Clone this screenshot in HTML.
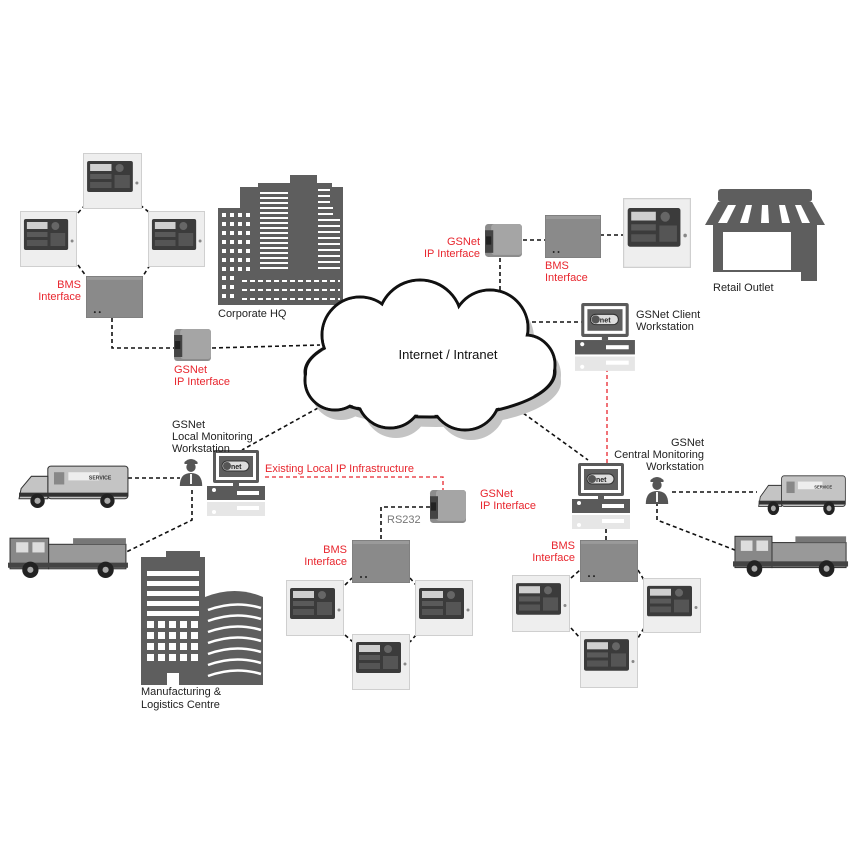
<!DOCTYPE html>
<html><head><meta charset="utf-8"><style>
html,body{margin:0;padding:0;background:#fff;}
svg{display:block;font-family:"Liberation Sans",sans-serif;}
.t{font-size:11px;fill:#222;}
.r{font-size:11px;fill:#e8262e;}
.d{stroke:#111;stroke-width:1.6;stroke-dasharray:4 3;fill:none;}
.rd{stroke:#e8262e;stroke-width:1.3;stroke-dasharray:4 3;fill:none;}
</style></head><body>
<svg width="850" height="850" viewBox="0 0 850 850" xmlns="http://www.w3.org/2000/svg">
<defs>
<symbol id="panel" viewBox="0 0 58 56" preserveAspectRatio="none">
<rect x="0.5" y="0.5" width="57" height="55" fill="#eeeeee" stroke="#cfcfcf"/>
<rect x="4" y="8" width="45" height="31" rx="2" fill="#3b3b3b"/>
<rect x="7" y="11" width="21" height="7" fill="#cfcfcf"/>
<rect x="7" y="21" width="21" height="5" fill="#5a5a5a"/>
<circle cx="36" cy="15" r="4" fill="#666"/>
<rect x="31" y="22" width="15" height="13" fill="#555"/>
<rect x="7" y="29" width="21" height="6" fill="#555"/>
<circle cx="53" cy="30" r="1.5" fill="#888"/>
</symbol>
<symbol id="bms" viewBox="0 0 58 43" preserveAspectRatio="none">
<rect x="0" y="0" width="58" height="43" fill="#8a8a8a" stroke="#777"/>
<rect x="1" y="1" width="56" height="3" fill="#9a9a9a"/>
<circle cx="9" cy="37" r="1" fill="#222"/><circle cx="14" cy="37" r="1" fill="#222"/>
</symbol>
<symbol id="ipi" viewBox="0 0 40 36" preserveAspectRatio="none">
<rect x="2" y="2" width="36" height="32" rx="3" fill="#8c8c8c"/>
<rect x="8" y="2" width="30" height="30" rx="3" fill="#a5a5a5"/>
<rect x="2" y="8" width="8" height="22" fill="#444"/>
<rect x="3" y="14" width="5" height="8" fill="#222"/>
</symbol>
<symbol id="ws" viewBox="0 0 60 70" preserveAspectRatio="none">
<rect x="6" y="0" width="46" height="33" rx="2" fill="#5a5a5a"/>
<rect x="9" y="3" width="40" height="27" fill="#fff"/>
<rect x="12" y="6" width="34" height="21" fill="#5f5f5f"/>
<rect x="15" y="11" width="27" height="10" rx="5" fill="#ddd" stroke="#333"/>
<circle cx="20" cy="16" r="4" fill="#555"/>
<text x="24" y="19" font-size="7" font-weight="bold" fill="#222">net</text>
<rect x="26" y="33" width="6" height="3" fill="#5a5a5a"/>
<rect x="0" y="36" width="58" height="14" fill="#5a5a5a"/>
<circle cx="7" cy="40" r="2" fill="#fff"/>
<rect x="30" y="41" width="22" height="4" fill="#fff"/>
<rect x="0" y="52" width="58" height="14" fill="#e6e6e6"/>
<circle cx="7" cy="62" r="2" fill="#fff"/>
<rect x="30" y="56" width="22" height="4" fill="#fff"/>
</symbol>
<symbol id="person" viewBox="0 0 30 30" preserveAspectRatio="none">
<path d="M8 6 Q15 0 22 6 L22 8 L8 8Z" fill="#555"/>
<circle cx="15" cy="11" r="5" fill="#555"/>
<path d="M3 30 Q3 17 15 17 Q27 17 27 30Z" fill="#555"/>
<path d="M14 18 L16 18 L16 28 L14 28Z" fill="#fff"/>
</symbol>
<symbol id="amb" viewBox="0 0 110 46" preserveAspectRatio="none">
<rect x="30" y="4" width="78" height="32" rx="3" fill="#c4c4c4" stroke="#333"/>
<path d="M30 14 L14 14 L4 26 L2 36 L30 36Z" fill="#c4c4c4" stroke="#333"/>
<rect x="36" y="10" width="10" height="12" fill="#888"/>
<rect x="50" y="10" width="30" height="8" fill="#eee"/>
<text x="70" y="17" font-size="5" font-weight="bold" fill="#333">SERVICE</text>
<rect x="2" y="30" width="106" height="4" fill="#333"/>
<circle cx="20" cy="38" r="7" fill="#222"/><circle cx="20" cy="38" r="3" fill="#aaa"/>
<circle cx="88" cy="38" r="7" fill="#222"/><circle cx="88" cy="38" r="3" fill="#aaa"/>
</symbol>
<symbol id="fire" viewBox="0 0 120 48" preserveAspectRatio="none">
<rect x="2" y="8" width="38" height="30" fill="#888" stroke="#333"/>
<rect x="8" y="12" width="12" height="10" fill="#ddd"/><rect x="24" y="12" width="12" height="10" fill="#ddd"/>
<rect x="40" y="14" width="76" height="24" fill="#999" stroke="#333"/>
<rect x="64" y="8" width="52" height="6" fill="#777"/>
<rect x="0" y="32" width="118" height="5" fill="#444"/>
<circle cx="22" cy="39" r="8" fill="#222"/><circle cx="22" cy="39" r="3" fill="#aaa"/>
<circle cx="96" cy="39" r="8" fill="#222"/><circle cx="96" cy="39" r="3" fill="#aaa"/>
</symbol>
</defs>

<!-- connectors -->
<path class="d" d="M78 213 L85 205 M140 205 L150 213 M78 265 L86 276 M150 265 L143 276"/>
<path class="d" d="M112 318 L112 348 L174 348 M212 348 L320 345"/>
<path class="d" d="M500 258 L500 292 M523 240 L546 240 M600 235 L623 235"/>
<path class="d" d="M518 322 L583 322"/>
<path class="rd" d="M607 368 L607 468"/>
<path class="d" d="M318 408 L242 450"/>
<path class="d" d="M128 478 L180 478 M192 490 L192 520 L118 556"/>
<path class="rd" d="M265 477 L443 477 L443 492"/>
<path class="d" d="M430 507 L381 507 L381 542"/>
<path class="d" d="M512 405 L588 460"/>
<path class="d" d="M606 515 L606 542"/>
<path class="d" d="M672 492 L757 492 M657 502 L657 520 L740 552"/>
<path class="d" d="M345 585 L352 578 M410 578 L416 585 M345 635 L353 642 M416 635 L410 642"/>
<path class="d" d="M571 578 L580 570 M638 570 L644 580 M571 628 L580 638 M644 628 L638 638"/>

<!-- panels -->
<use href="#panel" x="83" y="153" width="59" height="56"/>
<use href="#panel" x="20" y="211" width="57" height="56"/>
<use href="#panel" x="148" y="211" width="57" height="56"/>
<use href="#bms" x="86" y="276" width="57" height="42"/>
<use href="#ipi" x="172" y="327" width="41" height="36"/>
<use href="#ipi" x="483" y="222" width="41" height="37"/>
<use href="#bms" x="545" y="215" width="56" height="43"/>
<use href="#panel" x="623" y="198" width="68" height="70"/>
<use href="#ipi" x="428" y="488" width="40" height="37"/>
<use href="#bms" x="352" y="540" width="58" height="43"/>
<use href="#panel" x="286" y="580" width="58" height="56"/>
<use href="#panel" x="415" y="580" width="58" height="56"/>
<use href="#panel" x="352" y="634" width="58" height="56"/>
<use href="#bms" x="580" y="540" width="58" height="42"/>
<use href="#panel" x="512" y="575" width="58" height="57"/>
<use href="#panel" x="643" y="578" width="58" height="55"/>
<use href="#panel" x="580" y="631" width="58" height="57"/>

<!-- corporate HQ -->
<g fill="#5e5e5e">
<rect x="218" y="208" width="125" height="97"/>
<rect x="240" y="187" width="103" height="30"/>
<rect x="258" y="183" width="32" height="10"/>
<rect x="290" y="175" width="27" height="40"/>
<rect x="317" y="183" width="15" height="30"/>
</g>
<g fill="#fff">
<rect x="222" y="213" width="4" height="4"/><rect x="230" y="213" width="4" height="4"/><rect x="238" y="213" width="4" height="4"/><rect x="246" y="213" width="4" height="4"/>
<rect x="222" y="222" width="4" height="4"/><rect x="230" y="222" width="4" height="4"/><rect x="238" y="222" width="4" height="4"/><rect x="246" y="222" width="4" height="4"/>
<rect x="222" y="231" width="4" height="4"/><rect x="230" y="231" width="4" height="4"/><rect x="238" y="231" width="4" height="4"/><rect x="246" y="231" width="4" height="4"/>
<rect x="222" y="240" width="4" height="4"/><rect x="230" y="240" width="4" height="4"/><rect x="238" y="240" width="4" height="4"/><rect x="246" y="240" width="4" height="4"/>
<rect x="222" y="249" width="4" height="4"/><rect x="230" y="249" width="4" height="4"/><rect x="238" y="249" width="4" height="4"/><rect x="246" y="249" width="4" height="4"/>
<rect x="222" y="258" width="4" height="4"/><rect x="230" y="258" width="4" height="4"/><rect x="238" y="258" width="4" height="4"/><rect x="246" y="258" width="4" height="4"/>
<rect x="222" y="267" width="4" height="4"/><rect x="230" y="267" width="4" height="4"/><rect x="238" y="267" width="4" height="4"/><rect x="246" y="267" width="4" height="4"/>
<rect x="222" y="276" width="4" height="4"/><rect x="230" y="276" width="4" height="4"/>
<rect x="222" y="285" width="4" height="4"/><rect x="230" y="285" width="4" height="4"/>
<rect x="222" y="294" width="4" height="4"/><rect x="230" y="294" width="4" height="4"/>
</g>
<g stroke="#fff" stroke-width="2">
<path d="M260 193h28M260 198h28M260 203h28M260 208h28M260 213h28M260 218h28M260 223h28M260 228h28M260 233h28M260 238h28M260 243h28M260 248h28M260 253h28M260 258h28M260 263h28M260 268h28"/>
<path d="M318 190h12M318 196h12M318 202h12M318 208h15M318 214h15M318 220h22M318 226h22M318 232h22M318 238h22M318 244h22M318 250h22M318 256h22M318 262h22M318 268h22"/>
</g>
<g stroke="#fff" stroke-width="2" stroke-dasharray="5 3"><path d="M242 281h98M242 290h98M242 299h98"/></g>
<text class="t" x="218" y="317">Corporate HQ</text>

<!-- retail -->
<g fill="#5e5e5e">
<rect x="718" y="189" width="94" height="13" rx="3"/>
<path d="M718 202 L812 202 L825 225 L705 225Z"/>
<rect x="713" y="225" width="104" height="56"/>
</g>
<g fill="#fff">
<path d="M728 205 L736 205 L727 223 L718 223Z"/><path d="M746 205 L752 205 L748 223 L740 223Z"/>
<path d="M762 205 L768 205 L769 223 L761 223Z"/><path d="M779 205 L785 205 L790 223 L782 223Z"/>
<path d="M795 205 L801 205 L810 223 L802 223Z"/>
<rect x="723" y="232" width="68" height="38"/>
<rect x="713" y="272" width="88" height="9"/>
</g>
<text class="t" x="713" y="291">Retail Outlet</text>

<!-- cloud -->
<g fill="#c4c4c4" transform="translate(6,10)">
<ellipse cx="430" cy="372" rx="125" ry="45"/><circle cx="360" cy="335" r="38"/><circle cx="420" cy="322" r="42"/><circle cx="490" cy="328" r="38"/><circle cx="525" cy="365" r="30"/><circle cx="335" cy="380" r="30"/><circle cx="465" cy="395" r="35"/><circle cx="390" cy="395" r="33"/>
</g>
<g fill="#fff" stroke="#111" stroke-width="3">
<ellipse cx="430" cy="372" rx="125" ry="45"/><circle cx="360" cy="335" r="38"/><circle cx="420" cy="322" r="42"/><circle cx="490" cy="328" r="38"/><circle cx="525" cy="365" r="30"/><circle cx="335" cy="380" r="30"/><circle cx="465" cy="395" r="35"/><circle cx="390" cy="395" r="33"/>
</g>
<g fill="#fff">
<ellipse cx="430" cy="372" rx="123" ry="43"/><circle cx="360" cy="335" r="36.5"/><circle cx="420" cy="322" r="40.5"/><circle cx="490" cy="328" r="36.5"/><circle cx="525" cy="365" r="28.5"/><circle cx="335" cy="380" r="28.5"/><circle cx="465" cy="395" r="33.5"/><circle cx="390" cy="395" r="31.5"/>
</g>
<text x="448" y="359" font-size="13" fill="#111" text-anchor="middle">Internet / Intranet</text>

<!-- workstations -->
<use href="#ws" x="575" y="303" width="62" height="72"/>
<use href="#ws" x="207" y="450" width="60" height="70"/>
<use href="#ws" x="572" y="463" width="60" height="70"/>
<use href="#person" x="177" y="456" width="28" height="30"/>
<use href="#person" x="643" y="474" width="28" height="30"/>
<use href="#amb" x="17" y="462" width="113" height="47"/>
<use href="#amb" x="757" y="472" width="90" height="44"/>
<use href="#fire" x="8" y="530" width="122" height="49"/>
<use href="#fire" x="733" y="528" width="117" height="50"/>

<!-- manufacturing -->
<g fill="#5e5e5e">
<rect x="141" y="557" width="64" height="128"/>
<rect x="166" y="551" width="34" height="8"/>
<path d="M205 597 Q235 585 263 597 L263 685 L205 685Z"/>
</g>
<g fill="#fff">
<rect x="147" y="571" width="52" height="5"/><rect x="147" y="581" width="52" height="5"/><rect x="147" y="591" width="52" height="5"/><rect x="147" y="601" width="52" height="5"/><rect x="147" y="611" width="52" height="5"/>
<rect x="147" y="621" width="7" height="7"/><rect x="158" y="621" width="7" height="7"/><rect x="169" y="621" width="7" height="7"/><rect x="180" y="621" width="7" height="7"/><rect x="191" y="621" width="7" height="7"/>
<rect x="147" y="632" width="7" height="7"/><rect x="158" y="632" width="7" height="7"/><rect x="169" y="632" width="7" height="7"/><rect x="180" y="632" width="7" height="7"/><rect x="191" y="632" width="7" height="7"/>
<rect x="147" y="643" width="7" height="7"/><rect x="158" y="643" width="7" height="7"/><rect x="169" y="643" width="7" height="7"/><rect x="180" y="643" width="7" height="7"/><rect x="191" y="643" width="7" height="7"/>
<rect x="147" y="654" width="7" height="7"/><rect x="158" y="654" width="7" height="7"/><rect x="169" y="654" width="7" height="7"/><rect x="180" y="654" width="7" height="7"/><rect x="191" y="654" width="7" height="7"/>
<rect x="167" y="673" width="12" height="12"/>
</g>
<g stroke="#fff" stroke-width="2.5" fill="none">
<path d="M208 610 Q235 600 261 608M208 621 Q235 611 261 619M208 632 Q235 622 261 630M208 643 Q235 633 261 641M208 654 Q235 644 261 652M208 665 Q235 655 261 663M208 676 Q235 666 261 674"/>
</g>
<text class="t" x="141" y="695">Manufacturing &amp;</text>
<text class="t" x="141" y="708">Logistics Centre</text>

<!-- labels -->
<text class="r" x="81" y="288" text-anchor="end">BMS</text>
<text class="r" x="81" y="300" text-anchor="end">Interface</text>
<text class="r" x="174" y="373">GSNet</text>
<text class="r" x="174" y="385">IP Interface</text>
<text class="r" x="480" y="245" text-anchor="end">GSNet</text>
<text class="r" x="480" y="257" text-anchor="end">IP Interface</text>
<text class="r" x="545" y="269">BMS</text>
<text class="r" x="545" y="281">Interface</text>
<text class="t" x="636" y="318">GSNet Client</text>
<text class="t" x="636" y="330">Workstation</text>
<text class="t" x="172" y="428">GSNet</text>
<text class="t" x="172" y="440">Local Monitoring</text>
<text class="t" x="172" y="452">Workstation</text>
<text class="r" x="265" y="472">Existing Local IP Infrastructure</text>
<text class="r" x="480" y="497">GSNet</text>
<text class="r" x="480" y="509">IP Interface</text>
<text x="387" y="523" font-size="11" fill="#777">RS232</text>
<text class="r" x="347" y="553" text-anchor="end">BMS</text>
<text class="r" x="347" y="565" text-anchor="end">Interface</text>
<text class="t" x="704" y="446" text-anchor="end">GSNet</text>
<text class="t" x="704" y="458" text-anchor="end">Central Monitoring</text>
<text class="t" x="704" y="470" text-anchor="end">Workstation</text>
<text class="r" x="575" y="549" text-anchor="end">BMS</text>
<text class="r" x="575" y="561" text-anchor="end">Interface</text>
</svg>
</body></html>
